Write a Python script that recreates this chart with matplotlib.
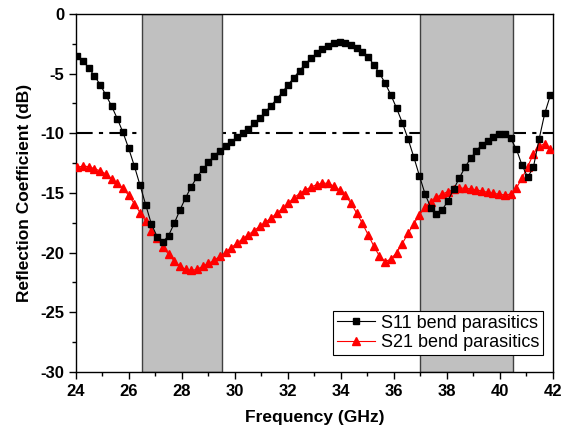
import numpy as np
import matplotlib
matplotlib.use("Agg")
import matplotlib.pyplot as plt
from matplotlib.ticker import MultipleLocator

plt.rcParams['font.family'] = ['Liberation Sans', 'DejaVu Sans']
plt.rcParams['axes.unicode_minus'] = False

# frequency sweep (GHz), same grid for both traces
freq = np.linspace(24.05, 41.91, 84)

s11 = [
    -3.49, -3.94, -4.53, -5.20, -5.92, -6.79, -7.71, -8.77, -9.92, -11.26,
    -12.74, -14.36, -16.00, -17.63, -18.66, -19.11, -18.58, -17.55, -16.43, -15.40,
    -14.47, -13.66, -13.02, -12.41, -11.90, -11.46, -11.06, -10.70, -10.34, -10.00,
    -9.64, -9.16, -8.72, -8.21, -7.68, -7.12, -6.54, -5.92, -5.34, -4.75,
    -4.19, -3.72, -3.30, -2.93, -2.65, -2.46, -2.37, -2.40, -2.57, -2.82,
    -3.16, -3.60, -4.25, -4.97, -5.81, -6.79, -7.90, -9.11, -10.45, -11.96,
    -13.55, -15.09, -16.23, -16.76, -16.43, -15.67, -14.70, -13.77, -12.85, -12.10,
    -11.46, -10.95, -10.62, -10.28, -10.06, -10.06, -10.42, -11.32, -12.66, -13.69,
    -12.85, -10.50, -8.32, -6.79,
]

s21 = [
    -12.85, -12.75, -12.80, -12.97, -13.15, -13.40, -13.80, -14.20, -14.60, -15.20,
    -15.90, -16.65, -17.35, -18.15, -18.80, -19.50, -20.15, -20.70, -21.15, -21.40,
    -21.50, -21.40, -21.15, -20.90, -20.65, -20.30, -19.95, -19.60, -19.20, -18.85,
    -18.50, -18.15, -17.80, -17.45, -17.10, -16.70, -16.30, -15.85, -15.40, -15.05,
    -14.75, -14.50, -14.30, -14.18, -14.20, -14.42, -14.75, -15.20, -15.85, -16.70,
    -17.55, -18.50, -19.45, -20.30, -20.75, -20.55, -20.00, -19.25, -18.40, -17.60,
    -16.85, -16.20, -15.73, -15.37, -15.09, -14.90, -14.70, -14.61, -14.60, -14.67,
    -14.75, -14.84, -14.95, -15.03, -15.11, -15.17, -15.11, -14.61, -13.77, -12.80,
    -11.74, -11.06, -10.90, -11.32,
]

bands = [(26.5, 29.5), (37.0, 40.5)]
threshold = -10


def main():
    fig = plt.figure(figsize=(5.63, 4.34), dpi=100)
    ax = fig.add_axes([0.135, 0.143, 0.847, 0.825])

    ax.axhline(threshold, color="black", linewidth=1.5,
               dashes=(8, 3, 2, 3), zorder=1)
    for lo, hi in bands:
        ax.axvspan(lo, hi, facecolor="#c0c0c0", edgecolor="#404040",
                   linewidth=1.0, zorder=2)

    ax.plot(freq, s21, color="red", marker="^", markersize=6, linewidth=0.8,
            label="S21 bend parasitics", zorder=3)
    ax.plot(freq, s11, color="black", marker="s", markersize=5, linewidth=0.8,
            label="S11 bend parasitics", zorder=4)

    ax.set_xlim(24, 42)
    ax.set_ylim(-30, 0)
    ax.xaxis.set_major_locator(MultipleLocator(2))
    ax.xaxis.set_minor_locator(MultipleLocator(1))
    ax.yaxis.set_major_locator(MultipleLocator(5))
    ax.yaxis.set_minor_locator(MultipleLocator(2.5))
    ax.tick_params(which="major", direction="out", length=5, width=1,
                   labelsize=12)
    ax.tick_params(which="minor", direction="out", length=3, width=1)
    for lab in ax.get_xticklabels() + ax.get_yticklabels():
        lab.set_fontweight("bold")
    for sp in ax.spines.values():
        sp.set_linewidth(1.0)

    ax.set_xlabel("Frequency (GHz)", fontsize=12.5, fontweight="bold", labelpad=8)
    ax.set_ylabel("Reflection Coefficient (dB)", fontsize=12.5,
                  fontweight="bold", labelpad=6)

    handles, labels = ax.get_legend_handles_labels()
    leg = ax.legend(handles[::-1], labels[::-1], loc="lower right",
                    bbox_to_anchor=(0.980, 0.0475), borderaxespad=0,
                    fontsize=13, frameon=True, fancybox=False, framealpha=1,
                    edgecolor="black", borderpad=0.2, labelspacing=0.15,
                    handlelength=2.1, handletextpad=0.35)
    leg.get_frame().set_linewidth(0.8)

    fig.savefig("out.png", dpi=100)


if __name__ == "__main__":
    main()
